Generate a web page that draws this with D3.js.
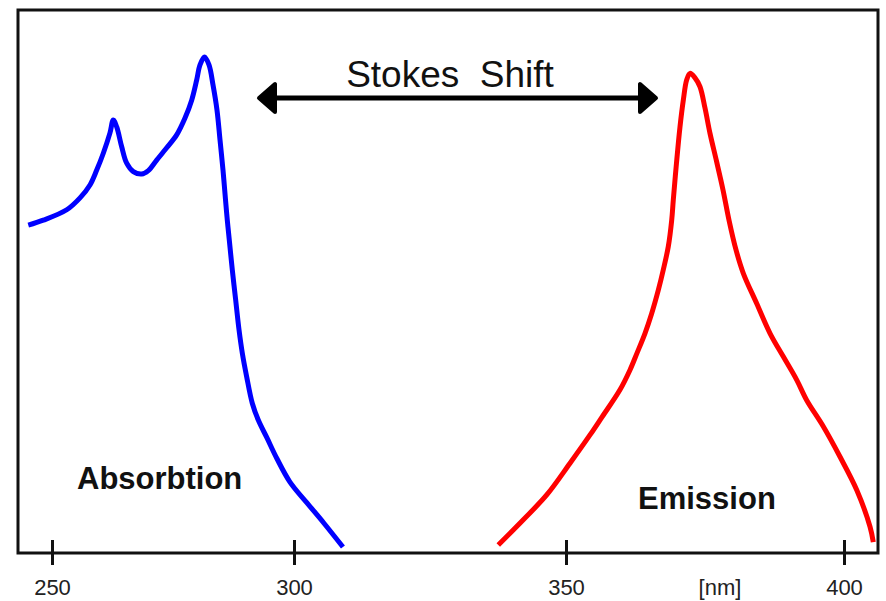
<!DOCTYPE html>
<html>
<head>
<meta charset="utf-8">
<script src="https://cdn.jsdelivr.net/npm/d3@7/dist/d3.min.js"></script>
<style>
  html, body { margin: 0; padding: 0; background: #fff; }
  svg { display: block; }
  text { font-family: "Liberation Sans", Arial, Helvetica, sans-serif; }
</style>
</head>
<body>
<svg id="chart" width="886" height="601"></svg>
<script>
// ---- data (wavelength nm, relative intensity %) ----
const tickValues = [250, 300, 350, 400];
const tickLabels = ["250", "300", "350", "400"];

const absorptionNm = [245.10, 248.20, 253.04, 255.79, 257.85, 259.24, 260.60, 261.98, 262.67, 263.37, 264.40, 265.43, 266.80, 268.53, 269.90, 271.63, 273.70, 275.76, 277.48, 278.86, 279.90, 280.58, 281.51, 282.44, 283.26, 284.09, 284.71, 285.33, 285.85, 286.22, 286.63, 287.25, 287.95, 288.64, 289.32, 290.23, 291.38, 292.62, 294.42, 296.49, 299.17, 302.39, 305.51, 309.00];
const absorptionVal = [66.1, 67.1, 69.2, 71.6, 74.2, 77.2, 80.6, 84.7, 87.3, 85.9, 81.9, 78.6, 76.9, 76.4, 77.1, 79.2, 81.7, 84.3, 87.7, 91.3, 95.4, 98.4, 100.0, 98.4, 94.4, 89.3, 83.3, 77.2, 71.2, 67.1, 63.1, 57.1, 51.0, 45.0, 40.3, 35.5, 30.2, 26.8, 23.2, 19.0, 14.3, 10.1, 6.0, 1.2];

const emissionNm = [337.55, 342.15, 346.45, 350.72, 354.32, 356.47, 359.71, 361.51, 362.77, 364.21, 365.41, 366.60, 367.50, 368.40, 369.01, 369.30, 369.87, 370.50, 371.10, 371.71, 372.30, 373.20, 374.10, 375.00, 375.90, 377.07, 378.24, 379.32, 380.58, 381.89, 384.30, 386.69, 389.08, 391.49, 393.29, 396.28, 399.28, 402.29, 404.68, 405.27];
const emissionVal = [1.6, 6.7, 11.7, 18.1, 23.8, 27.4, 32.9, 36.9, 40.3, 44.3, 48.3, 53.0, 57.1, 61.8, 67.1, 71.2, 78.6, 85.9, 91.3, 95.4, 96.7, 95.8, 94.0, 89.7, 84.6, 79.0, 73.2, 67.1, 61.1, 56.4, 50.3, 44.3, 39.6, 34.9, 30.8, 25.5, 19.4, 12.7, 5.3, 2.2];

const labels = { title: "Stokes  Shift", absorption: "Absorbtion", emission: "Emission", unit: "[nm]" };

// ---- layout ----
const svg = d3.select("#chart");
const frame = { left: 18, right: 878, top: 10, bottom: 553 };

const x = d3.scaleLinear().domain(tickValues).range([52, 294, 566, 844]);
const y = d3.scaleLinear().domain([0, 100]).range([553, 57]);

// frame
svg.append("rect")
  .attr("x", frame.left).attr("y", frame.top)
  .attr("width", frame.right - frame.left).attr("height", frame.bottom - frame.top)
  .attr("fill", "#fff").attr("stroke", "#111").attr("stroke-width", 3);

// axis
const axis = d3.axisBottom(x).tickValues(tickValues).tickFormat((d, i) => tickLabels[i]).tickSize(0);
const gAxis = svg.append("g").attr("transform", `translate(0,${frame.bottom})`).call(axis);
gAxis.select(".domain").remove();
gAxis.selectAll(".tick line")
  .attr("y1", -13).attr("y2", 12)
  .attr("stroke", "#111").attr("stroke-width", 3);
gAxis.selectAll(".tick text")
  .attr("y", 42).attr("dy", 0)
  .attr("font-size", 22).attr("fill", "#222")
  .style("font-family", "'Liberation Sans', Arial, sans-serif");

// curves
const line = d3.line().x(d => x(d[0])).y(d => y(d[1])).curve(d3.curveCatmullRom.alpha(0.5));
const absData = absorptionNm.map((v, i) => [v, absorptionVal[i]]);
const emData = emissionNm.map((v, i) => [v, emissionVal[i]]);

svg.append("path").datum(absData).attr("d", line)
  .attr("fill", "none").attr("stroke", "#0000ff").attr("stroke-width", 5)
  .attr("stroke-linejoin", "round");
svg.append("path").datum(emData).attr("d", line)
  .attr("fill", "none").attr("stroke", "#ff0000").attr("stroke-width", 5)
  .attr("stroke-linejoin", "round");

// Stokes shift arrow
const ay = 98;
svg.append("line").attr("x1", 272).attr("x2", 642).attr("y1", ay).attr("y2", ay)
  .attr("stroke", "#000").attr("stroke-width", 5);
svg.append("path")
  .attr("d", `M259,${ay} L275,${ay - 14} L275,${ay + 14} Z`)
  .attr("fill", "#000").attr("stroke", "#000").attr("stroke-width", 4).attr("stroke-linejoin", "round");
svg.append("path")
  .attr("d", `M656,${ay} L640,${ay - 14} L640,${ay + 14} Z`)
  .attr("fill", "#000").attr("stroke", "#000").attr("stroke-width", 4).attr("stroke-linejoin", "round");

// texts
svg.append("text").attr("x", 450).attr("y", 87).attr("text-anchor", "middle")
  .attr("font-size", 37).attr("fill", "#111").style("white-space", "pre")
  .text(labels.title);
svg.append("text").attr("x", 77).attr("y", 489)
  .attr("font-size", 31).attr("font-weight", "bold").attr("fill", "#111")
  .text(labels.absorption);
svg.append("text").attr("x", 638).attr("y", 509)
  .attr("font-size", 31).attr("font-weight", "bold").attr("fill", "#111")
  .text(labels.emission);
svg.append("text").attr("x", 720).attr("y", 595).attr("text-anchor", "middle")
  .attr("font-size", 22).attr("fill", "#222")
  .text(labels.unit);
</script>
</body>
</html>
